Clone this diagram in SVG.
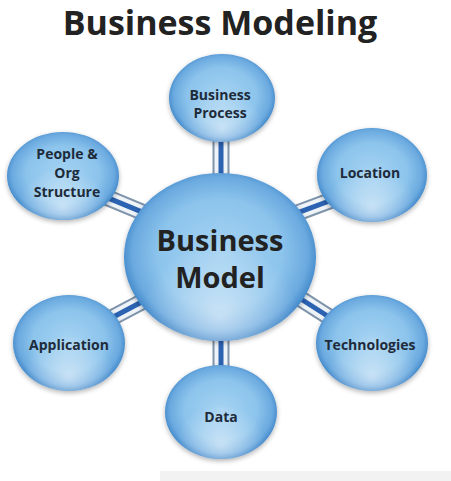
<svg xmlns="http://www.w3.org/2000/svg" width="451" height="481" viewBox="0 0 451 481">
<defs>
<radialGradient id="ball" cx="50%" cy="48%" r="52%">
<stop offset="0%" stop-color="#a6d3f2"/>
<stop offset="62%" stop-color="#8cc4ec"/>
<stop offset="88%" stop-color="#6aa9df"/>
<stop offset="100%" stop-color="#3f86c8"/>
</radialGradient>
<radialGradient id="hl" cx="50%" cy="82%" r="40%" fx="50%" fy="85%">
<stop offset="0%" stop-color="#ffffff" stop-opacity="0.55"/>
<stop offset="100%" stop-color="#ffffff" stop-opacity="0"/>
</radialGradient>
<filter id="sh" x="-20%" y="-20%" width="140%" height="140%">
<feGaussianBlur in="SourceAlpha" stdDeviation="2.5"/>
<feOffset dx="0" dy="2" result="b"/>
<feComponentTransfer><feFuncA type="linear" slope="0.3"/></feComponentTransfer>
<feMerge><feMergeNode/><feMergeNode in="SourceGraphic"/></feMerge>
</filter>
</defs>
<style>
.o{stroke:#7f93ab;stroke-width:17;fill:none}
.w{stroke:#eef3f8;stroke-width:13;fill:none}
.b{stroke:#2c62b2;stroke-width:5;fill:none}
.ball{fill:url(#ball);filter:url(#sh)}
.hl{fill:url(#hl)}
.t{font-family:"Open Sans","DejaVu Sans",sans-serif;font-weight:bold;font-size:14px;fill:#1e2b3a;text-anchor:middle}
.big{font-size:29px;fill:#222}
.title{font-family:"Open Sans","DejaVu Sans",sans-serif;font-weight:bold;font-size:34px;fill:#222;text-anchor:middle}
</style>
<rect width="451" height="481" fill="#ffffff"/>
<rect x="160" y="471" width="291" height="10" fill="#f2f2f2"/>
<text class="title" x="220" y="35">Business Modeling</text>
<g id="connectors">
<path class="o" d="M221 135V180M221 335V370M100 194.6L155 217.4M290 215.7L340 197M100 324L153 296M290 292L340 324"/>
<path class="w" d="M221 135V180M221 335V370M100 194.6L155 217.4M290 215.7L340 197M100 324L153 296M290 292L340 324"/>
<path class="b" d="M221 135V180M221 335V370M100 194.6L155 217.4M290 215.7L340 197M100 324L153 296M290 292L340 324"/>
</g>
<g id="business-model">
<ellipse class="ball" cx="220" cy="257" rx="96" ry="84"/>
<ellipse class="hl" cx="220" cy="257" rx="96" ry="84"/>
<text class="t big" x="220" y="251">Business</text>
<text class="t big" x="220" y="288">Model</text>
</g>
<g id="business-process">
<ellipse class="ball" cx="222" cy="98" rx="53" ry="44"/>
<ellipse class="hl" cx="222" cy="98" rx="53" ry="44"/>
<text class="t" x="220" y="100">Business</text>
<text class="t" x="220" y="118">Process</text>
</g>
<g id="people">
<ellipse class="ball" cx="63" cy="176" rx="56" ry="44"/>
<ellipse class="hl" cx="63" cy="176" rx="56" ry="44"/>
<text class="t" x="67" y="159">People &amp;</text>
<text class="t" x="67" y="178">Org</text>
<text class="t" x="67" y="197">Structure</text>
</g>
<g id="location">
<ellipse class="ball" cx="372" cy="175" rx="55" ry="47"/>
<ellipse class="hl" cx="372" cy="175" rx="55" ry="47"/>
<text class="t" x="370" y="178">Location</text>
</g>
<g id="technologies">
<ellipse class="ball" cx="372" cy="343" rx="56" ry="48"/>
<ellipse class="hl" cx="372" cy="343" rx="56" ry="48"/>
<text class="t" x="370" y="350">Technologies</text>
</g>
<g id="application">
<ellipse class="ball" cx="69" cy="343" rx="56" ry="48"/>
<ellipse class="hl" cx="69" cy="343" rx="56" ry="48"/>
<text class="t" x="69" y="350">Application</text>
</g>
<g id="data">
<ellipse class="ball" cx="221" cy="412" rx="56" ry="47"/>
<ellipse class="hl" cx="221" cy="412" rx="56" ry="47"/>
<text class="t" x="221" y="422">Data</text>
</g>
</svg>
